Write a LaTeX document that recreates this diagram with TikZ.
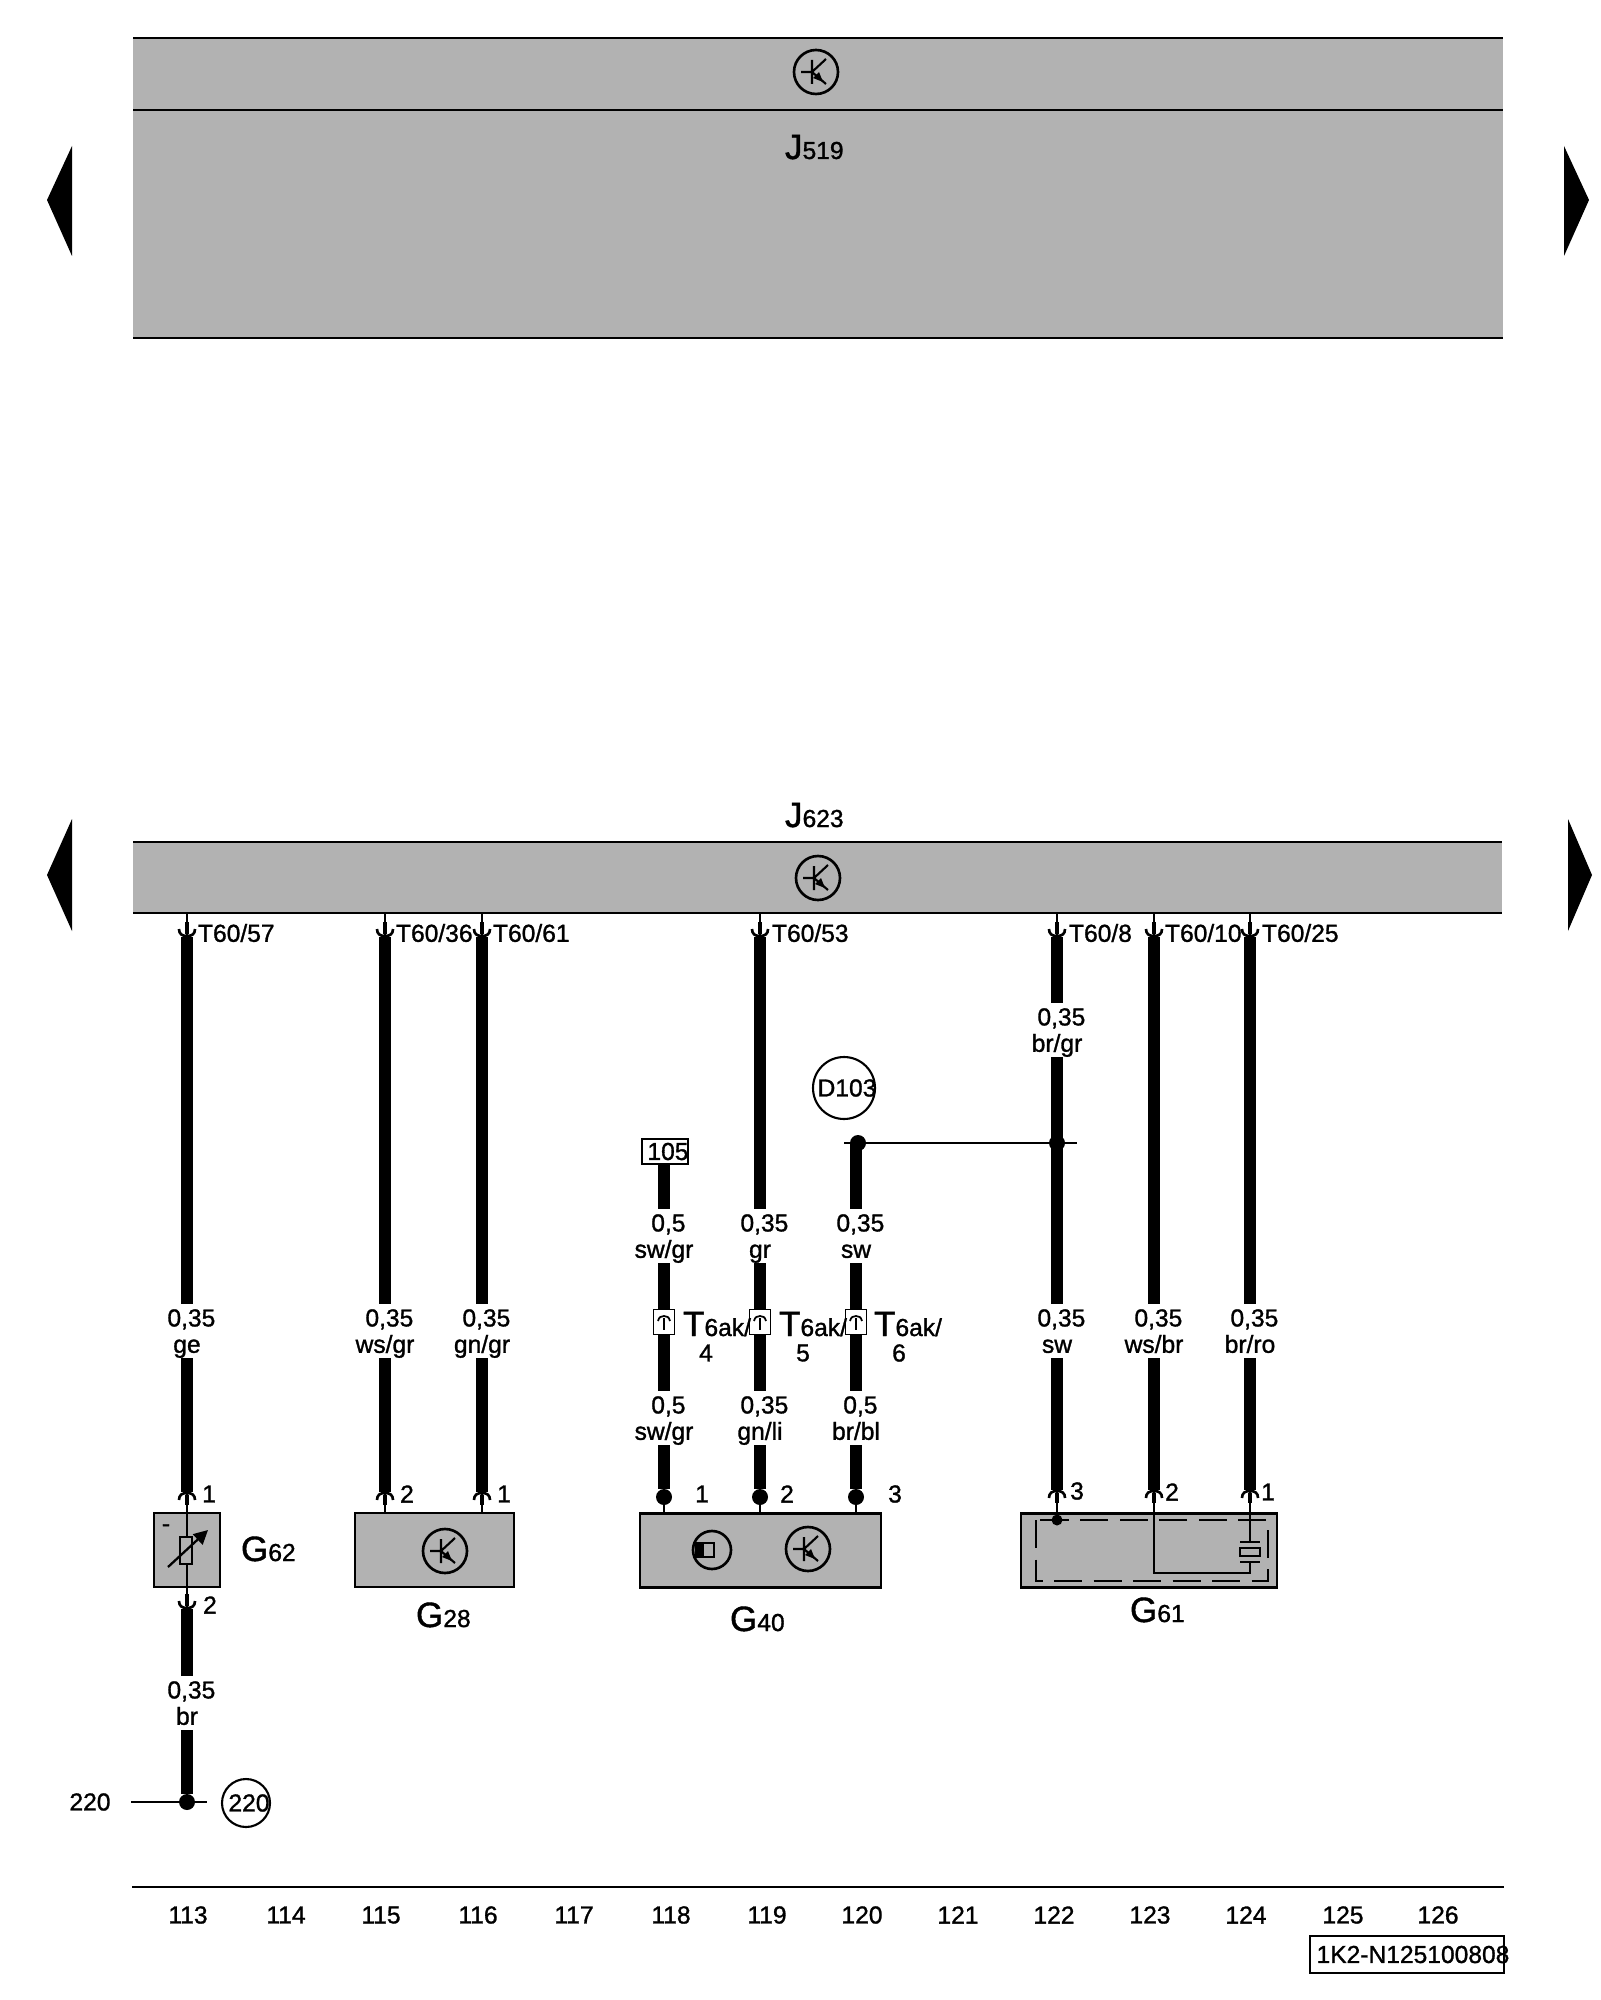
\documentclass[tikz,border=0pt]{standalone}
\usepackage{fontspec}
\setmainfont{Liberation Sans}[FakeBold=1.2]
\usepackage{tikz}
\usetikzlibrary{arrows.meta}

\definecolor{bandgray}{HTML}{B2B2B2}
\newcommand{\lab}{\fontsize{14}{15}\selectfont}
\newcommand{\desig}[2]{{\fontsize{20}{20}\selectfont #1}#2}
\newcommand{\wlab}[2]{\hspace*{5pt}#1\\\smash{#2}}
\newcommand{\nudged}[2]{\makebox[0pt]{\hspace*{#1}#2}}

\tikzset{
	every node/.style={font=\lab, inner sep=0pt, outer sep=0pt},
	band/.style={fill=bandgray},
	busline/.style={line width=1.3pt},
	wire/.style={line width=7.2pt},
	thinw/.style={line width=1.2pt},
	cup/.style={line width=1.5pt},
	pintip/.style={line width=2.8pt},
	gbox/.style={draw, fill=bandgray, line width=1.2pt, minimum height=1.48cm},
	wlabel/.style={fill=white, align=center, minimum height=1.08cm},
	pinno/.style={anchor=center},
	wdot/.style={circle, fill=black, minimum size=0.32cm},
	ring/.style={circle, draw, fill=white, line width=1.2pt},
	conn/.style={draw, fill=white, line width=0.9pt, minimum width=0.42cm, minimum height=0.5cm},
	colnum/.style={anchor=center},
	plugtop/.pic={
		\draw[cup] (-8,-8) .. controls (-8,-3) and (-5,-1) .. (0,-1) .. controls (5,-1) and (8,-3) .. (8,-8);
		\draw[pintip] (0,-15) -- (0,-3);
	},
	plugbot/.pic={
		\draw[cup] (-8,8) .. controls (-8,3) and (-5,1) .. (0,1) .. controls (5,1) and (8,3) .. (8,8);
		\draw[pintip] (0,3) -- (0,13);
	},
	connsym/.pic={
		\draw[line width=1pt] (-6,-1) .. controls (-5,-5) and (-3,-6) .. (0,-6) .. controls (3,-6) and (5,-5) .. (6,-1);
		\draw[line width=1.6pt] (0,-4) -- (0,8);
	},
	transist/.pic={
		\draw[line width=1.5pt] (0,0) circle (22);
		\draw[line width=1.2pt] (-15,0) -- (-4,0) (-4,-12) -- (-4,12) (-4,0) -- (10,-13) (-4,0) -- (10,12);
		\fill (3,0) -- (7,10) -- (-3,6) -- cycle;
	},
	photosym/.pic={
		\draw[line width=1.5pt] (0,0) circle (19);
		\draw[line width=1.2pt] (-16,-7) rectangle (2,7);
		\fill (-16,-7) rectangle (-8,7);
	},
}

\begin{document}
\begin{tikzpicture}[x=0.02cm,y=-0.02cm]
	\useasboundingbox (0,0) rectangle (1600,2000);

	% control units
	\node[band, minimum width=27.4cm, minimum height=1.44cm] (B519a) at (818,74) {};
	\node[band, minimum width=27.4cm, minimum height=4.56cm] (B519b) at (818,224) {};
	\node[band, minimum width=27.38cm, minimum height=1.42cm] (J623) at (817.5,877.5) {};
	\draw[busline] (B519a.north west) -- (B519a.north east);
	\draw[busline] (B519b.north west) -- (B519b.north east);
	\draw[busline] (B519b.south west) -- (B519b.south east);
	\draw[busline] (J623.north west) -- (J623.north east);
	\draw[busline] (J623.south west) -- (J623.south east);
	\pic at (816,72) {transist};
	\pic at (818,878) {transist};
	\node[anchor=base west] (L519) at (785,159) {\desig{J}{519}};
	\node[anchor=base west] (L623) at (785,827) {\desig{J}{623}};

	% page arrows
	\fill[line join=round] (72,146) -- (47,200) -- (72,256) -- cycle;
	\fill[line join=round] (1564,146) -- (1589,200) -- (1564,256) -- cycle;
	\fill[line join=round] (72,819) -- (47,875) -- (72,931) -- cycle;
	\fill[line join=round] (1568,819) -- (1592,875) -- (1568,931) -- cycle;

	% components
	\node[gbox, minimum width=1.32cm] (G62) at (187,1550) {};
	\node[gbox, minimum width=3.18cm] (G28) at (434.5,1550) {};
	\node[gbox, minimum width=4.82cm] (G40) at (760.5,1550.5) {};
	\node[gbox, minimum width=5.12cm] (G61) at (1149,1550.5) {};
	\node[anchor=base west] (L62) at (241,1561) {\desig{G}{62}};
	\node[anchor=base west] (L28) at (416,1627) {\desig{G}{28}};
	\node[anchor=base west] (L40) at (730,1631) {\desig{G}{40}};
	\node[anchor=base west] (L61) at (1130,1622) {\desig{G}{61}};
	\pic at (445,1551) {transist};
	\pic at (808,1549) {transist};
	\pic at (712,1550) {photosym};
	\node (minus) at (166,1528) {-};
	\draw[line width=1.2pt, dash pattern=on 16pt off 6.5pt] (1036,1520) rectangle (1268,1581);

	% wire ends
	\coordinate (A113) at (187,937);
	\coordinate (B113) at (187,1492);
	\coordinate (C113) at (187,1609);
	\coordinate (A115) at (385,937);
	\coordinate (B115) at (385,1492);
	\coordinate (A116) at (482,937);
	\coordinate (B116) at (482,1492);
	\coordinate (A118) at (664,1160);
	\coordinate (A119) at (760,937);
	\coordinate (A120) at (856,1143);
	\coordinate (A122) at (1057,937);
	\coordinate (B122) at (1057,1490);
	\coordinate (A123) at (1154,937);
	\coordinate (B123) at (1154,1490);
	\coordinate (A124) at (1250,937);
	\coordinate (B124) at (1250,1490);
	\node[wdot] (D118) at (664,1497) {};
	\node[wdot] (D119) at (760,1497) {};
	\node[wdot] (D120) at (856,1497) {};
	\node[wdot] (D220) at (187,1802) {};
	\node[wdot] (D122) at (1057,1143) {};
	\node[wdot] (D103) at (858,1143) {};

	% thick wires
	\draw[wire] (A113) -- (B113);
	\draw[wire] (C113) -- (D220);
	\draw[wire] (A115) -- (B115);
	\draw[wire] (A116) -- (B116);
	\draw[wire] (A118) -- (D118);
	\draw[wire] (A119) -- (D119);
	\draw[wire] (A120) -- (D120);
	\draw[wire] (A122) -- (B122);
	\draw[wire] (A123) -- (B123);
	\draw[wire] (A124) -- (B124);

	% pins
	\draw[thinw] (A113 |- J623.south) -- (A113);
	\draw[thinw] (A115 |- J623.south) -- (A115);
	\draw[thinw] (A116 |- J623.south) -- (A116);
	\draw[thinw] (A119 |- J623.south) -- (A119);
	\draw[thinw] (A122 |- J623.south) -- (A122);
	\draw[thinw] (A123 |- J623.south) -- (A123);
	\draw[thinw] (A124 |- J623.south) -- (A124);
	\pic at (A113) {plugtop};
	\pic at (A115) {plugtop};
	\pic at (A116) {plugtop};
	\pic at (A119) {plugtop};
	\pic at (A122) {plugtop};
	\pic at (A123) {plugtop};
	\pic at (A124) {plugtop};
	\draw[thinw] (B113) -- (C113);
	\draw[thinw] (B115) -- (B115 |- G28.north);
	\draw[thinw] (B116) -- (B116 |- G28.north);
	\draw[thinw] (D118) -- (D118 |- G40.north);
	\draw[thinw] (D119) -- (D119 |- G40.north);
	\draw[thinw] (D120) -- (D120 |- G40.north);
	\pic at (B113) {plugbot};
	\pic at (B115) {plugbot};
	\pic at (B116) {plugbot};
	\pic at (B122) {plugbot};
	\pic at (B123) {plugbot};
	\pic at (B124) {plugbot};
	\pic at (C113) {plugtop};

	% G62 resistor
	\node[draw, fill=bandgray, line width=1.1pt, minimum width=0.24cm, minimum height=0.54cm] (R62) at (186,1550.5) {};
	\coordinate (S62) at (168,1567);
	\coordinate (E62) at (208,1530);
	\draw[line width=1.3pt, -{Triangle[length=8pt,width=8pt]}] (S62) -- (E62);

	% G61 inside
	\node[wdot, minimum size=0.22cm] (D61) at (1057,1520) {};
	\draw[thinw] (B122) -- (D61);
	\coordinate (P1) at (1250,1542);
	\coordinate (P2) at (1250,1562);
	\coordinate (P3) at (1250,1573);
	\coordinate (P4) at (1154,1573);
	\draw[thinw] (B124) -- (P1);
	\draw[thinw] (P2) -- (P3) -- (P4) -- (B123);
	\draw[thinw] (1240,1542) -- (1260,1542);
	\draw[thinw] (1240,1562) -- (1260,1562);
	\node[draw, fill=bandgray, line width=1.1pt, minimum width=0.4cm, minimum height=0.16cm] (X61) at (1250,1552) {};

	% junctions
	\coordinate (H1) at (844,1143);
	\coordinate (H2) at (1077,1143);
	\draw[thinw] (H1) -- (H2);
	\coordinate (H3) at (131,1802);
	\coordinate (H4) at (207,1802);
	\draw[thinw] (H3) -- (H4);

	% wire labels
	\node[wlabel] (W113) at (187,1331) {\wlab{0,35}{ge}};
	\node[wlabel] (W115) at (385,1331) {\wlab{0,35}{ws/gr}};
	\node[wlabel] (W116) at (482,1331) {\wlab{0,35}{gn/gr}};
	\node[wlabel] (W122b) at (1057,1331) {\wlab{0,35}{sw}};
	\node[wlabel] (W123) at (1154,1331) {\wlab{0,35}{ws/br}};
	\node[wlabel] (W124) at (1250,1331) {\wlab{0,35}{br/ro}};
	\node[wlabel] (W122a) at (1057,1030) {\wlab{0,35}{br/gr}};
	\node[wlabel] (W118a) at (664,1236) {\wlab{0,5}{sw/gr}};
	\node[wlabel] (W119a) at (760,1236) {\wlab{0,35}{gr}};
	\node[wlabel] (W120a) at (856,1236) {\wlab{0,35}{sw}};
	\node[wlabel] (W118b) at (664,1418) {\wlab{0,5}{sw/gr}};
	\node[wlabel] (W119b) at (760,1418) {\wlab{0,35}{gn/li}};
	\node[wlabel] (W120b) at (856,1418) {\wlab{0,5}{br/bl}};
	\node[wlabel] (W113c) at (187,1703) {\wlab{0,35}{br}};

	% terminals
	\node[anchor=west] (T57) at (198,933) {T60/57};
	\node[anchor=west] (T36) at (396,933) {T60/36};
	\node[anchor=west] (T61) at (493,933) {T60/61};
	\node[anchor=west] (T53) at (772,933) {T60/53};
	\node[anchor=west] (T8) at (1069,933) {T60/8};
	\node[anchor=west] (T10) at (1165,933) {T60/10};
	\node[anchor=west] (T25) at (1262,933) {T60/25};
	\node[pinno] (N62a) at (209,1494) {1};
	\node[pinno] (N62b) at (210,1605) {2};
	\node[pinno] (N28a) at (407,1494) {2};
	\node[pinno] (N28b) at (504,1494) {1};
	\node[pinno] (N40a) at (702,1494) {1};
	\node[pinno] (N40b) at (787,1494) {2};
	\node[pinno] (N40c) at (895,1494) {3};
	\node[pinno] (N61a) at (1077,1491) {3};
	\node[pinno] (N61b) at (1172,1492) {2};
	\node[pinno] (N61c) at (1268,1492) {1};

	% T6ak connector
	\node[conn] (C4) at (664,1322) {};
	\node[conn] (C5) at (760,1322) {};
	\node[conn] (C6) at (856,1322) {};
	\pic at (664,1322) {connsym};
	\pic at (760,1322) {connsym};
	\pic at (856,1322) {connsym};
	\node[anchor=base west] (TA) at (683,1336) {\desig{T}{6ak/}};
	\node[anchor=base west] (TB) at (779,1336) {\desig{T}{6ak/}};
	\node[anchor=base west] (TC) at (874,1336) {\desig{T}{6ak/}};
	\node (TA4) at (706,1353) {4};
	\node (TB5) at (803,1353) {5};
	\node (TC6) at (899,1353) {6};

	% references
	\node[draw, fill=white, line width=1.1pt, minimum width=0.92cm, minimum height=0.5cm] (F105) at (665,1151.5) {\nudged{3.4pt}{105}};
	\node[ring, minimum size=1.24cm] (R103) at (844,1088) {\nudged{3.4pt}{D103}};
	\node[ring, minimum size=0.96cm] (R220) at (246,1803) {\nudged{3.4pt}{220}};
	\node (N220) at (90,1802) {220};

	% column numbers
	\coordinate (F1) at (132,1887);
	\coordinate (F2) at (1504,1887);
	\draw[busline] (F1) -- (F2);
	\node[colnum] (K113) at (188,1915) {113};
	\node[colnum] (K114) at (286,1915) {114};
	\node[colnum] (K115) at (381,1915) {115};
	\node[colnum] (K116) at (478,1915) {116};
	\node[colnum] (K117) at (574,1915) {117};
	\node[colnum] (K118) at (671,1915) {118};
	\node[colnum] (K119) at (767,1915) {119};
	\node[colnum] (K120) at (862,1915) {120};
	\node[colnum] (K121) at (958,1915) {121};
	\node[colnum] (K122) at (1054,1915) {122};
	\node[colnum] (K123) at (1150,1915) {123};
	\node[colnum] (K124) at (1246,1915) {124};
	\node[colnum] (K125) at (1343,1915) {125};
	\node[colnum] (K126) at (1438,1915) {126};
	\node[draw, line width=1.2pt, minimum width=3.88cm, minimum height=0.74cm] (Code) at (1407,1954.5) {\nudged{6.8pt}{1K2-N125100808}};
\end{tikzpicture}
\end{document}
